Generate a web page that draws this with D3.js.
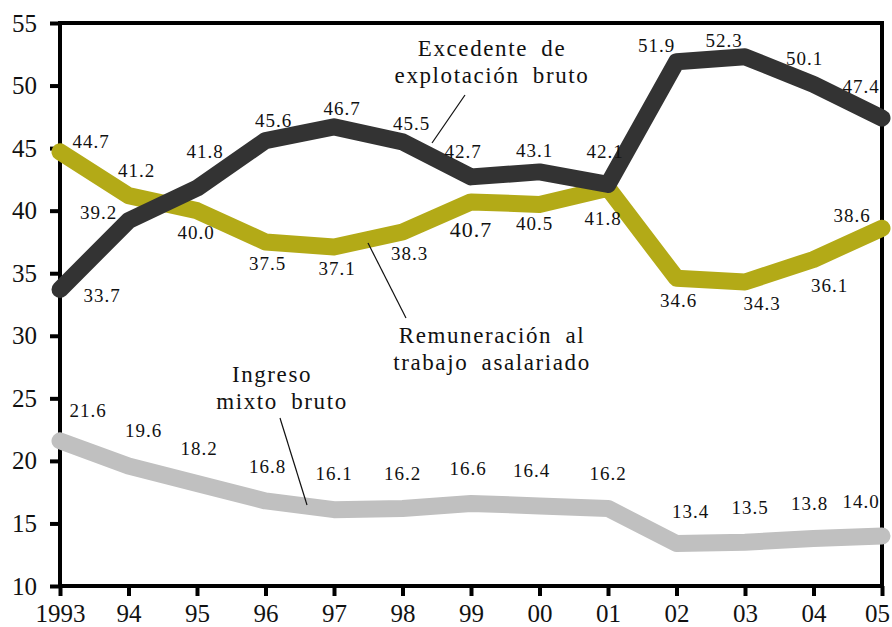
<!doctype html>
<html>
<head>
<meta charset="utf-8">
<style>
    body { margin: 0; background: #fff; }
    text { font-family: "Liberation Serif", "Times New Roman", serif; fill: #111; }
    .val { font-size: 19px; letter-spacing: 1px; }
    .tick { font-size: 25px; }
    .note { font-size: 23px; letter-spacing: 1.6px; word-spacing: 6px; }
</style>
<script src="https://d3js.org/d3.v7.min.js"></script>
</head>
<body>
<div id="chart"></div>
<script>
    // data
    var years = ["1993", "94", "95", "96", "97", "98", "99", "00", "01", "02", "03", "04", "05"];
    var excedente = [33.7, 39.2, 41.8, 45.6, 46.7, 45.5, 42.7, 43.1, 42.1, 51.9, 52.3, 50.1, 47.4];
    var remuneracion = [44.7, 41.2, 40.0, 37.5, 37.1, 38.3, 40.7, 40.5, 41.8, 34.6, 34.3, 36.1, 38.6];
    var ingreso = [21.6, 19.6, 18.2, 16.8, 16.1, 16.2, 16.6, 16.4, 16.2, 13.4, 13.5, 13.8, 14.0];
    var yTicks = [10, 15, 20, 25, 30, 35, 40, 45, 50, 55];

    // label offsets from each point (layout only)
    var offExc = [[42,13],[-30,-2],[8,-30],[8,-14],[8,-12],[9,-12],[-8,-19],[-5,-15],[-3,-26],[-20,-10],[-21,-10],[-9,-19],[-21,-25]];
    var offRem = [[31,-4],[8,-19],[-1,28],[2,28],[3,28],[7,28],[0,35],[-5,26],[-5,37],[2,29],[17,28],[16,33],[-30,-6]];
    var offIng = [[28,-24],[15,-29],[2,-28],[2,-28],[0,-30],[0,-28],[-3,-28],[-8,-29],[0,-28],[14,-25],[5,-28],[-4,-28],[-21,-28]];

    var W = 892, H = 627;
    var mLeft = 60, mRight = 882, mTop = 23, mBottom = 586;

    var svg = d3.select("#chart").append("svg")
        .attr("width", W)
        .attr("height", H);

    var x = d3.scalePoint()
        .domain(years)
        .range([mLeft, mRight]);

    var y = d3.scaleLinear()
        .domain([10, 55])
        .range([mBottom, mTop]);

    // frame
    svg.append("rect")
        .attr("x", mLeft).attr("y", mTop)
        .attr("width", mRight - mLeft).attr("height", mBottom - mTop)
        .attr("fill", "none").attr("stroke", "#000").attr("stroke-width", 4);

    // y axis
    var yAxis = svg.append("g")
        .attr("transform", "translate(" + mLeft + ",0)")
        .call(d3.axisLeft(y).tickValues(yTicks).tickSize(10).tickPadding(13));
    yAxis.select(".domain").remove();
    yAxis.selectAll("line").attr("stroke", "#000").attr("stroke-width", 4);
    yAxis.selectAll("text").attr("class", "tick").attr("font-size", null).attr("font-family", null).attr("fill", "#111");

    // x axis
    var xAxis = svg.append("g")
        .attr("transform", "translate(0," + mBottom + ")")
        .call(d3.axisBottom(x).tickSize(10).tickPadding(8));
    xAxis.select(".domain").remove();
    xAxis.selectAll("line").attr("stroke", "#000").attr("stroke-width", 4);
    xAxis.selectAll("text").attr("class", "tick").attr("font-size", null).attr("font-family", null).attr("fill", "#111")
        .attr("dx", function(d) { return d === "05" ? -5 : 0; });

    var line = d3.line()
        .x(function(d, i) { return x(years[i]); })
        .y(function(d) { return y(d); });

    var series = [
        { values: ingreso, color: "#c0c0c0", off: offIng },
        { values: remuneracion, color: "#b3aa17", off: offRem },
        { values: excedente, color: "#333333", off: offExc }
    ];

    series.forEach(function(s) {
        svg.append("path")
            .datum(s.values)
            .attr("fill", "none")
            .attr("stroke", s.color)
            .attr("stroke-width", 17)
            .attr("stroke-linejoin", "round")
            .attr("stroke-linecap", "round")
            .attr("d", line);
    });

    series.forEach(function(s) {
        svg.append("g").selectAll("text")
            .data(s.values)
            .enter().append("text")
            .attr("class", "val")
            .attr("text-anchor", "middle")
            .attr("x", function(d, i) { return x(years[i]) + s.off[i][0]; })
            .attr("y", function(d, i) { return y(d) + s.off[i][1]; })
            .style("font-size", function(d, i) { return (s.values === remuneracion && i === 6) ? "22px" : null; })
            .text(function(d) { return d.toFixed(1); });
    });

    // series notes
    var notes = [
        { lines: ["Excedente de", "explotación bruto"], x: 492, y: 56, lead: [[465, 95], [432, 143]] },
        { lines: ["Remuneración al", "trabajo asalariado"], x: 492, y: 343, lead: [[368, 243], [406, 318]] },
        { lines: ["Ingreso", "mixto bruto"], x: 272, y: 382, lead: [[280, 418], [307, 505]] }
    ];

    notes.forEach(function(n) {
        n.lines.forEach(function(t, k) {
            svg.append("text")
                .attr("class", "note")
                .attr("text-anchor", "middle")
                .attr("x", n.x + (n.lines[0] === "Ingreso" && k === 1 ? 10 : 0))
                .attr("y", n.y + k * 27)
                .text(t);
        });
        svg.append("line")
            .attr("x1", n.lead[0][0]).attr("y1", n.lead[0][1])
            .attr("x2", n.lead[1][0]).attr("y2", n.lead[1][1])
            .attr("stroke", "#111").attr("stroke-width", 1.2);
    });
</script>
</body>
</html>
